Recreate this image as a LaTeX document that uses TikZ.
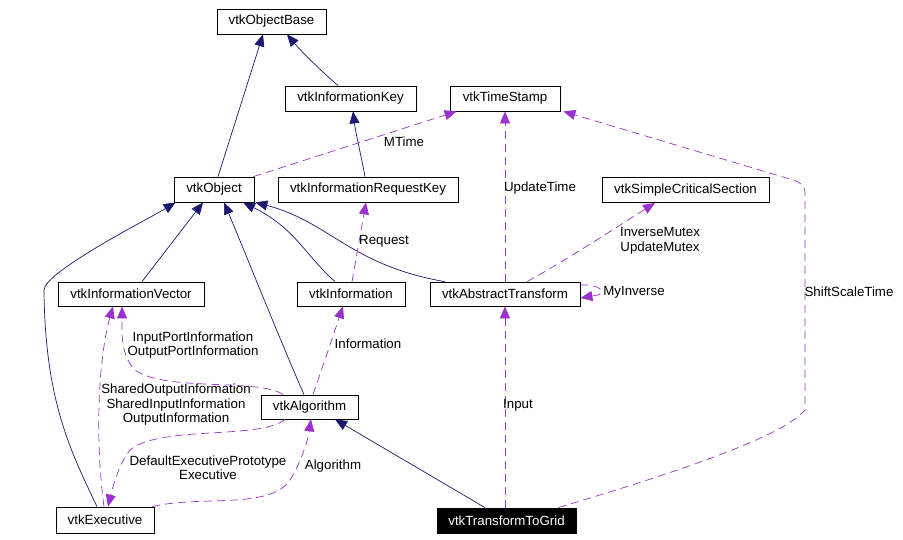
\documentclass[tikz,border=0pt]{standalone}
\usepackage{fontspec}
\setmainfont{Liberation Sans}
\usetikzlibrary{arrows.meta}
\definecolor{navyc}{HTML}{191970}
\definecolor{purp}{HTML}{9A32CD}
\begin{document}
\begin{tikzpicture}[x=1pt,y=-1pt,
  box/.style={draw=black, line width=0.8pt, fill=white, inner sep=0pt, minimum height=25pt, font=\fontsize{13.3}{15}\selectfont},
  inh/.style={draw=navyc, line width=0.7pt, -{Triangle[length=12pt,width=10pt]}},
  col/.style={draw=purp, line width=0.7pt, dash pattern=on 8pt off 5pt, -{Triangle[length=12pt,width=10pt]}},
  lbl/.style={font=\fontsize{13.3}{14.5}\selectfont, align=center, inner sep=0pt}]
\useasboundingbox[fill=white] (0,0) rectangle (903,540);
% nodes
\node[box, minimum width=109pt] (objbase) at (271.5,21.5) {vtkObjectBase};
\node[box, minimum width=131pt] (infokey) at (350.5,98.5) {vtkInformationKey};
\node[box, minimum width=110pt] (timestamp) at (505,98.5) {vtkTimeStamp};
\node[box, minimum width=80pt] (object) at (214,189.5) {vtkObject};
\node[box, minimum width=180pt] (reqkey) at (368,189.5) {vtkInformationRequestKey};
\node[box, minimum width=167pt] (critsec) at (685.5,190) {vtkSimpleCriticalSection};
\node[box, minimum width=146pt, minimum height=24pt] (infovec) at (131,294) {vtkInformationVector};
\node[box, minimum width=108pt, minimum height=24pt] (info) at (351,294) {vtkInformation};
\node[box, minimum width=150pt, minimum height=24pt] (abstr) at (505,294) {vtkAbstractTransform};
\node[box, minimum width=97pt, minimum height=24pt] (algo) at (309.5,407) {vtkAlgorithm};
\node[box, minimum width=98pt, minimum height=26pt] (exec) at (105,520) {vtkExecutive};
\node[box, minimum width=139pt, fill=black, text=white] (ttg) at (506.5,520.5) {vtkTransformToGrid};
% inheritance edges
\draw[inh] ([xshift=4pt]object.north) -- ([xshift=-8.5pt]objbase.south);
\draw[inh] ([xshift=-12.5pt]infokey.north) .. controls (320,70) and (300,50) .. ([xshift=15.5pt]objbase.south);
\draw[inh] ([xshift=-3pt]reqkey.north) .. controls (360,150) and (356,135) .. ([xshift=2.5pt]infokey.south);
\draw[inh] ([xshift=11pt]infovec.north) -- ([xshift=-11pt]object.south);
\draw[inh] ([xshift=-8pt]exec.north) .. controls (70,450) and (45,400) .. (44,290) .. controls (44,272) and (150,218) .. ([xshift=2pt]object.south west);
\draw[inh] ([xshift=-5.5pt]algo.north) .. controls (280,340) and (240,240) .. ([xshift=10pt]object.south);
\draw[inh] ([xshift=-16pt]info.north) .. controls (305,255) and (295,228) .. ([xshift=29pt]object.south);
\draw[inh] ([xshift=15pt]abstr.north west) .. controls (350,265) and (330,222) .. ([xshift=1pt]object.south east);
\draw[inh] ([xshift=-21.5pt]ttg.north) -- ([xshift=25.5pt]algo.south);
% collaboration edges
\draw[col] ([xshift=-1pt]object.north east) -- ([xshift=7pt]timestamp.south west);
\node[lbl] (lmtime) at (404,142) {MTime};
\draw[col] (abstr.north) -- (timestamp.south);
\node[lbl] (lupd) at (540,188) {UpdateTime};
\draw[col] ([xshift=-18pt]ttg.north east) .. controls (650,480) and (780,440) .. (805,410) -- (805,192) .. controls (805,186) and (800,182) .. (793,180) -- ([xshift=3pt]timestamp.south east);
\node[lbl] (lshift) at (849,292) {ShiftScaleTime};
\draw[col] ([xshift=22pt]abstr.north) .. controls (570,258) and (620,225) .. ([xshift=-30.5pt]critsec.south);
\node[lbl] (lmutex) at (660,241) {InverseMutex\\UpdateMutex};
\draw[col] ([yshift=9pt]abstr.east) .. controls (600,284) and (606,292) .. (598,295) -- ([yshift=-4pt]abstr.east);
\node[lbl] (linv) at (634,292) {MyInverse};
\draw[col] ([xshift=-1.5pt]ttg.north) -- (abstr.south);
\node[lbl] (linput) at (518,405) {Input};
\draw[col] ([xshift=1pt]info.north) -- ([xshift=-2pt]reqkey.south);
\node[lbl] (lreq) at (384,241) {Request};
\draw[col] ([xshift=3.5pt]algo.north) .. controls (325,360) and (335,330) .. ([xshift=-8pt]info.south);
\node[lbl] (linfo) at (368,344) {Information};
\draw[col] ([xshift=-26.5pt]algo.north) .. controls (260,378) and (165,392) .. (135,370) .. controls (120,355) and (122,330) .. ([xshift=-9pt]infovec.south);
\node[lbl] (lport) at (193,345) {InputPortInformation\\OutputPortInformation};
\draw[col] ([xshift=-1pt]exec.north) .. controls (95,440) and (98,360) .. ([xshift=-18pt]infovec.south);
\node[lbl] (lshared) at (176,405) {SharedOutputInformation\\SharedInputInformation\\OutputInformation};
\draw[col] ([xshift=-24.5pt]algo.south) .. controls (260,440) and (160,425) .. (130,450) .. controls (118,465) and (112,490) .. ([xshift=3pt]exec.north);
\node[lbl] (ldef) at (208,467.5) {DefaultExecutivePrototype\\Executive};
\draw[col] ([xshift=-2pt]exec.north east) .. controls (200,495) and (270,510) .. (290,480) .. controls (300,465) and (308,440) .. ([xshift=1.5pt]algo.south);
\node[lbl] (lalgo) at (333,466) {Algorithm};
\end{tikzpicture}
\end{document}
